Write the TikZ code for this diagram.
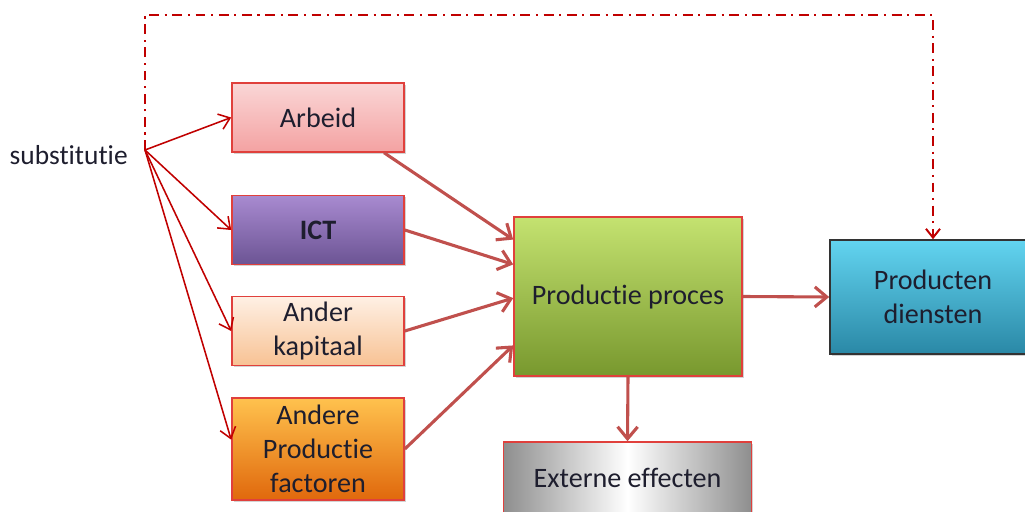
\documentclass[tikz,border=0pt]{standalone}
\usepackage{fontspec}
\setmainfont[Ligatures={NoCommon}]{Carlito}
\usetikzlibrary{arrows.meta, positioning, shadows, calc}
\definecolor{lijnRood}{HTML}{C00000}
\definecolor{pijlRood}{HTML}{C0504D}
\definecolor{randRood}{HTML}{E0403C}
\definecolor{tekstDonker}{HTML}{1E1E2E}
\definecolor{roseBoven}{HTML}{FAD6D6}
\definecolor{roseOnder}{HTML}{F4A2A2}
\definecolor{paarsBoven}{HTML}{A88AD0}
\definecolor{paarsOnder}{HTML}{6C5494}
\definecolor{perzikBoven}{HTML}{FEF0E4}
\definecolor{perzikOnder}{HTML}{F8C294}
\definecolor{oranjeBoven}{HTML}{FFC24E}
\definecolor{oranjeOnder}{HTML}{E0680C}
\definecolor{groenBoven}{HTML}{C4E270}
\definecolor{groenOnder}{HTML}{78982E}
\definecolor{blauwBoven}{HTML}{62D4F0}
\definecolor{blauwOnder}{HTML}{2A88A6}
\definecolor{grijsRand}{HTML}{8E8E8E}

\begin{document}
\begin{tikzpicture}[x=0.025cm, y=-0.025cm,
        blok/.style={draw=randRood, line width=1.1pt, align=center, inner sep=2pt,
            text=tekstDonker, font=\fontsize{20}{24}\selectfont,
            drop shadow={opacity=0.35, shadow xshift=1.2pt, shadow yshift=-1.2pt}},
        factor/.style={blok, minimum width=4.3cm, minimum height=1.72cm},
        subst/.style={-{Straight Barb[length=2.6mm, width=4mm]}, lijnRood, line width=1.1pt},
        rel/.style={-{Straight Barb[length=3mm, width=5mm]}, pijlRood, line width=2.2pt},
        stippel/.style={lijnRood, line width=1.4pt, dash pattern=on 7pt off 4pt on 1.5pt off 4pt}
    ]
        \useasboundingbox (0,0) rectangle (1025,512);
        % invoer
        \node[factor, top color=roseBoven, bottom color=roseOnder] (arbeid) at (318,117.5) {Arbeid};
        \node[factor, top color=paarsBoven, bottom color=paarsOnder, font=\fontsize{20}{24}\selectfont\bfseries] (ict) at (318,230) {ICT};
        \node[factor, top color=perzikBoven, bottom color=perzikOnder] (kapitaal) at (318,331) {Ander\\kapitaal};
        \node[factor, minimum height=2.55cm, top color=oranjeBoven, bottom color=oranjeOnder] (andere) at (318,449) {Andere\\Productie\\factoren};
        % proces en uitvoer
        \node[blok, minimum width=5.7cm, minimum height=3.97cm, top color=groenBoven, bottom color=groenOnder] (proces) at (628,296.5) {Productie proces};
        \node[blok, draw=black!80, minimum width=5.15cm, minimum height=2.85cm, top color=blauwBoven, bottom color=blauwOnder] (producten) at (933,297) {Producten\\diensten};
        \node[blok, minimum width=6.2cm, minimum height=1.8cm, left color=grijsRand, right color=grijsRand, middle color=white] (extern) at (627.5,478) {Externe effecten};
        % substitutie
        \node[anchor=east, text=tekstDonker, font=\fontsize{19.5}{22}\selectfont, inner sep=0pt] (substitutie) at (128,155) {substitutie};
        \coordinate (sub) at (145,150);
        \draw[subst] (sub) -- (arbeid.west);
        \draw[subst] (sub) -- (ict.west);
        \draw[subst] (sub) -- (kapitaal.west);
        \draw[subst] (sub) -- ($(andere.north west)!0.41!(andere.south west)$);
        \draw[stippel, -{Straight Barb[length=2.2mm, width=3.5mm]}] (sub) -- (145,15) -| (producten.north);
        % naar proces
        \draw[rel] ($(arbeid.south west)!0.88!(arbeid.south east)$) -- ($(proces.north west)!0.145!(proces.south west)$);
        \draw[rel] (ict.east) -- ($(proces.north west)!0.3!(proces.south west)$);
        \draw[rel] (kapitaal.east) -- ($(proces.north west)!0.51!(proces.south west)$);
        \draw[rel] (andere.east) -- ($(proces.north west)!0.805!(proces.south west)$);
        \draw[rel] (proces.east) -- (producten.west);
        \draw[rel] (proces.south) -- (extern.north);
    \end{tikzpicture}
\end{document}
